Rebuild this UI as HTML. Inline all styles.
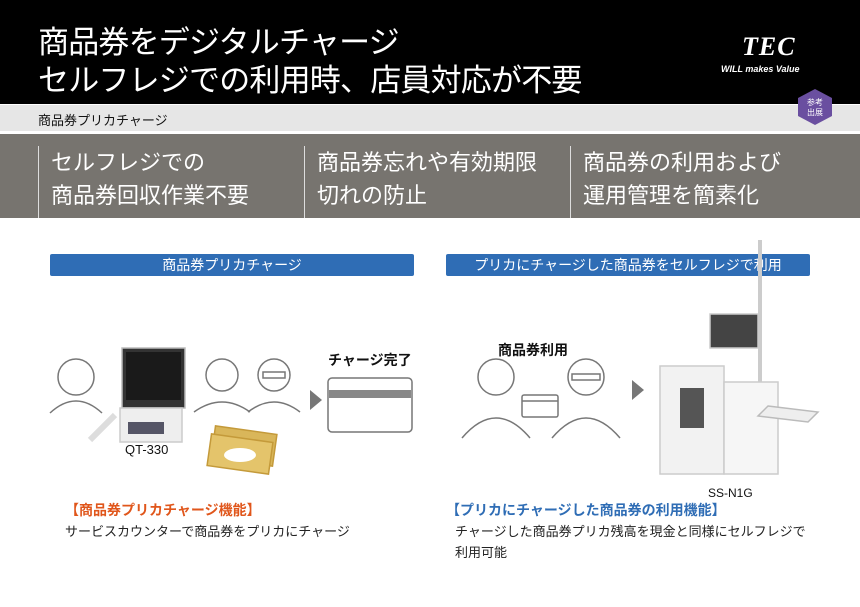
<!DOCTYPE html>
<html><head><meta charset="utf-8"><style>
*{margin:0;padding:0;box-sizing:border-box}
body{width:860px;height:607px;background:#fff;font-family:"Liberation Sans","Noto Sans CJK JP",sans-serif;position:relative;overflow:hidden}
.abs{position:absolute}
.hdr{left:0;top:0;width:860px;height:104px;background:#000}
.t1{left:38px;top:24px;color:#fff;font-size:31px;line-height:38px;white-space:nowrap;letter-spacing:-0.8px}
.sub{left:0;top:105px;width:860px;height:26px;background:#e6e6e6}
.band{left:0;top:134px;width:860px;height:84px;background:#77746f}
.feat{color:#fff;font-size:22px;line-height:33px;border-left:1px solid #ddd;padding-left:12px;top:146px;height:72px;white-space:nowrap}
.pill{height:22px;background:#2f6db5;color:#fff;font-size:14px;text-align:center;line-height:22px;border-radius:2px}
</style></head><body>
<div class="abs hdr"></div>
<div class="abs t1">商品券をデジタルチャージ<br>セルフレジでの利用時、店員対応が不要</div>
<div class="abs" style="left:742px;top:32px;color:#fff;font:italic bold 26px 'Liberation Serif',serif;letter-spacing:1px">TEC</div>
<div class="abs" style="left:721px;top:64px;color:#fff;font:italic bold 9px 'Liberation Sans',sans-serif;white-space:nowrap">WILL makes Value</div>
<div class="abs sub"></div>
<div class="abs" style="left:38px;top:110px;font-size:13px;color:#111">商品券プリカチャージ</div>
<svg class="abs" style="left:796px;top:88px" width="38" height="38"><polygon points="19,1 36,10 36,28 19,37 2,28 2,10" fill="#6a4fa0"/><text x="19" y="17" font-size="8" fill="#fff" text-anchor="middle" font-family="Noto Sans CJK JP">参考</text><text x="19" y="27" font-size="8" fill="#fff" text-anchor="middle" font-family="Noto Sans CJK JP">出展</text></svg>
<div class="abs band"></div>
<div class="abs feat" style="left:38px">セルフレジでの<br>商品券回収作業不要</div>
<div class="abs feat" style="left:304px">商品券忘れや有効期限<br>切れの防止</div>
<div class="abs feat" style="left:570px">商品券の利用および<br>運用管理を簡素化</div>
<div class="abs pill" style="left:50px;top:254px;width:364px">商品券プリカチャージ</div>
<div class="abs pill" style="left:446px;top:254px;width:364px">プリカにチャージした商品券をセルフレジで利用</div>
<svg class="abs" style="left:0;top:230px" width="860" height="260" fill="none" stroke="#777" stroke-width="1.5">
<g><circle cx="76" cy="147" r="18"/><path d="M50 183 q26 -24 52 0"/></g>
<g><circle cx="222" cy="145" r="16"/><path d="M194 182 q28 -20 56 0"/></g>
<g><circle cx="274" cy="145" r="16"/><path d="M248 182 q26 -20 52 0"/><rect x="263" y="142" width="22" height="6"/></g>
<rect x="122" y="118" width="63" height="60" fill="#333" stroke="#bbb"/><rect x="126" y="122" width="55" height="48" fill="#1a1a1a" stroke="none"/>
<rect x="120" y="178" width="62" height="34" fill="#eee" stroke="#ccc"/><rect x="128" y="192" width="36" height="12" fill="#556" stroke="none"/>
<path d="M90 210 l25 -25" stroke="#ddd" stroke-width="6"/>
<rect x="213" y="200" width="62" height="32" fill="#d9b65a" stroke="#c49a3a" transform="rotate(8 244 216)"/>
<rect x="209" y="208" width="62" height="32" fill="#e4c46b" stroke="#c49a3a" transform="rotate(8 240 224)"/><ellipse cx="240" cy="225" rx="16" ry="7" fill="#fff" stroke="none"/>
<polygon points="310,160 322,170 310,180" fill="#777" stroke="none"/>
<rect x="328" y="148" width="84" height="54" rx="4" stroke="#777"/><rect x="329" y="160" width="82" height="8" fill="#888" stroke="none"/>
<g><circle cx="496" cy="147" r="18"/><path d="M462 208 q34 -40 68 0"/></g>
<g><circle cx="586" cy="147" r="18"/><path d="M552 208 q34 -40 68 0"/><rect x="572" y="144" width="28" height="6"/></g>
<rect x="522" y="165" width="36" height="22" rx="2"/><line x1="522" y1="171" x2="558" y2="171"/>
<polygon points="632,150 644,160 632,170" fill="#777" stroke="none"/>
<line x1="760" y1="10" x2="760" y2="160" stroke="#ccc" stroke-width="4"/>
<rect x="710" y="84" width="48" height="34" fill="#444" stroke="#ccc"/>
<rect x="660" y="136" width="64" height="108" fill="#f2f2f2" stroke="#ccc"/>
<rect x="724" y="152" width="54" height="92" fill="#f6f6f6" stroke="#ccc"/>
<rect x="680" y="158" width="24" height="40" fill="#555" stroke="none"/>
<path d="M768 176 l50 6 l-10 10 l-50 -6z" fill="#eee" stroke="#bbb"/>
</svg>
<div class="abs" style="left:125px;top:442px;font-size:13px;color:#111">QT-330</div>
<div class="abs" style="left:328px;top:350px;font-size:14px;font-weight:bold;color:#111">チャージ完了</div>
<div class="abs" style="left:498px;top:340px;font-size:14px;font-weight:bold;color:#111">商品券利用</div>
<div class="abs" style="left:708px;top:486px;font-size:12px;color:#111">SS-N1G</div>
<div class="abs" style="left:65px;top:500px;font-size:14px;font-weight:bold;color:#e0561b">【商品券プリカチャージ機能】</div>
<div class="abs" style="left:65px;top:521px;font-size:13px;color:#222">サービスカウンターで商品券をプリカにチャージ</div>
<div class="abs" style="left:446px;top:500px;font-size:14px;font-weight:bold;color:#2f6db5">【プリカにチャージした商品券の利用機能】</div>
<div class="abs" style="left:455px;top:521px;font-size:13px;line-height:21px;color:#222">チャージした商品券プリカ残高を現金と同様にセルフレジで<br>利用可能</div>
</body></html>
